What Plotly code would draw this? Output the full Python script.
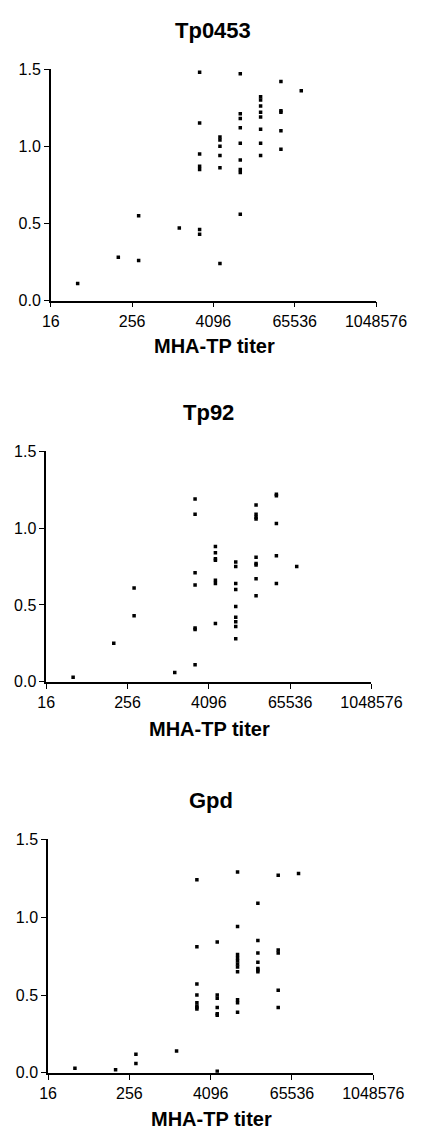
import math
import plotly.graph_objects as go

# ---- data ----
tp0453_titer = [40, 160, 320, 320, 1280,
                2560, 2560, 2560, 2560, 2560, 2560, 2560,
                5120, 5120, 5120, 5120, 5120, 5120,
                10240, 10240, 10240, 10240, 10240, 10240, 10240, 10240, 10240,
                20480, 20480, 20480, 20480, 20480, 20480, 20480, 20480,
                40960, 40960, 40960, 40960, 40960,
                81920]
tp0453_od = [0.11, 0.28, 0.55, 0.26, 0.47,
             1.48, 1.15, 0.95, 0.87, 0.85, 0.46, 0.43,
             1.06, 1.04, 1.00, 0.94, 0.86, 0.24,
             1.47, 1.21, 1.18, 1.12, 1.02, 0.91, 0.85, 0.83, 0.56,
             1.32, 1.30, 1.26, 1.22, 1.19, 1.11, 1.02, 0.94,
             1.42, 1.23, 1.22, 1.10, 0.98,
             1.36]

tp92_titer = [40, 160, 320, 320, 1280,
              2560, 2560, 2560, 2560, 2560, 2560, 2560,
              5120, 5120, 5120, 5120, 5120, 5120, 5120,
              10240, 10240, 10240, 10240, 10240, 10240, 10240, 10240, 10240,
              20480, 20480, 20480, 20480, 20480, 20480, 20480, 20480, 20480,
              40960, 40960, 40960, 40960, 40960,
              81920]
tp92_od = [0.03, 0.25, 0.61, 0.43, 0.06,
           1.19, 1.09, 0.71, 0.63, 0.35, 0.34, 0.11,
           0.88, 0.84, 0.80, 0.79, 0.66, 0.64, 0.38,
           0.78, 0.75, 0.64, 0.60, 0.49, 0.42, 0.39, 0.36, 0.28,
           1.15, 1.09, 1.07, 1.06, 0.81, 0.77, 0.76, 0.67, 0.56,
           1.22, 1.21, 1.03, 0.82, 0.64,
           0.75]

gpd_titer = [40, 160, 320, 320, 1280,
             2560, 2560, 2560, 2560, 2560, 2560, 2560, 2560,
             5120, 5120, 5120, 5120, 5120, 5120, 5120,
             10240, 10240, 10240, 10240, 10240, 10240, 10240, 10240, 10240, 10240, 10240,
             20480, 20480, 20480, 20480, 20480, 20480, 20480,
             40960, 40960, 40960, 40960, 40960,
             81920]
gpd_od = [0.03, 0.02, 0.12, 0.06, 0.14,
          1.24, 0.81, 0.57, 0.50, 0.45, 0.43, 0.42, 0.41,
          0.84, 0.50, 0.48, 0.42, 0.38, 0.37, 0.01,
          1.29, 0.94, 0.76, 0.74, 0.72, 0.70, 0.68, 0.65, 0.47, 0.45, 0.39,
          1.09, 0.85, 0.77, 0.71, 0.67, 0.66, 0.65,
          1.27, 0.79, 0.77, 0.53, 0.42,
          1.28]

panel_titles = ["Tp0453", "Tp92", "Gpd"]
x_tick_vals = [16, 256, 4096, 65536, 1048576]
x_tick_text = ["16", "256", "4096", "65536", "1048576"]
y_tick_vals = [0.0, 0.5, 1.0, 1.5]
x_title = "MHA-TP titer"

# ---- layout geometry (pixels) ----
W, H = 437, 1137
panels = [
    dict(x=(46, 404), y=(62, 297), title_xy=(225, 23), xt_xy=(226, 343)),
    dict(x=(41, 399), y=(450, 684), title_xy=(220, 411), xt_xy=(221, 732)),
    dict(x=(43, 401), y=(844, 1081), title_xy=(222, 805), xt_xy=(223, 1128)),
]
datasets = [(tp0453_titer, tp0453_od), (tp92_titer, tp92_od), (gpd_titer, gpd_od)]

FONT = "Liberation Sans, Arial, sans-serif"

fig = go.Figure()
layout = dict(
    width=W, height=H,
    margin=dict(l=0, r=0, t=0, b=0),
    paper_bgcolor="white", plot_bgcolor="white",
    showlegend=False,
    font=dict(family=FONT, color="black"),
)
annotations = []
for i, (p, (xs, ys)) in enumerate(zip(panels, datasets)):
    n = "" if i == 0 else str(i + 1)
    fig.add_trace(go.Scatter(
        x=xs, y=ys, mode="markers",
        marker=dict(symbol="square", size=3.5, color="black"),
        xaxis="x" + n, yaxis="y" + n,
    ))
    layout["xaxis" + n] = dict(
        type="log", range=[math.log10(16), math.log10(1048576)],
        domain=[p["x"][0] / W, p["x"][1] / W],
        anchor="y" + n,
        tickvals=x_tick_vals, ticktext=x_tick_text,
        ticks="outside", ticklen=5, tickwidth=1, tickcolor="black",
        showline=True, linecolor="black", linewidth=1.5,
        showgrid=False, zeroline=False,
        tickfont=dict(size=16, family=FONT, color="black"),
    )
    layout["yaxis" + n] = dict(
        range=[0, 1.5],
        domain=[1 - p["y"][1] / H, 1 - p["y"][0] / H],
        anchor="x" + n,
        tickvals=y_tick_vals, tickformat=".1f",
        ticks="outside", ticklen=5, tickwidth=1, tickcolor="black",
        showline=True, linecolor="black", linewidth=1.5,
        showgrid=False, zeroline=False,
        tickfont=dict(size=16, family=FONT, color="black"),
    )
    annotations.append(dict(
        text="<b>%s</b>" % panel_titles[i], xref="paper", yref="paper",
        x=p["title_xy"][0] / W, y=1 - p["title_xy"][1] / H,
        xanchor="center", yanchor="middle", showarrow=False,
        font=dict(size=22, family=FONT, color="black"),
    ))
    annotations.append(dict(
        text="<b>%s</b>" % x_title, xref="paper", yref="paper",
        x=p["xt_xy"][0] / W, y=1 - p["xt_xy"][1] / H,
        xanchor="center", yanchor="middle", showarrow=False,
        font=dict(size=20, family=FONT, color="black"),
    ))
layout["annotations"] = annotations
fig.update_layout(**layout)
fig.write_html(
    "out.html",
    config={"displayModeBar": False},
    post_script="document.body.style.margin='0';document.body.style.overflow='hidden';",
)
